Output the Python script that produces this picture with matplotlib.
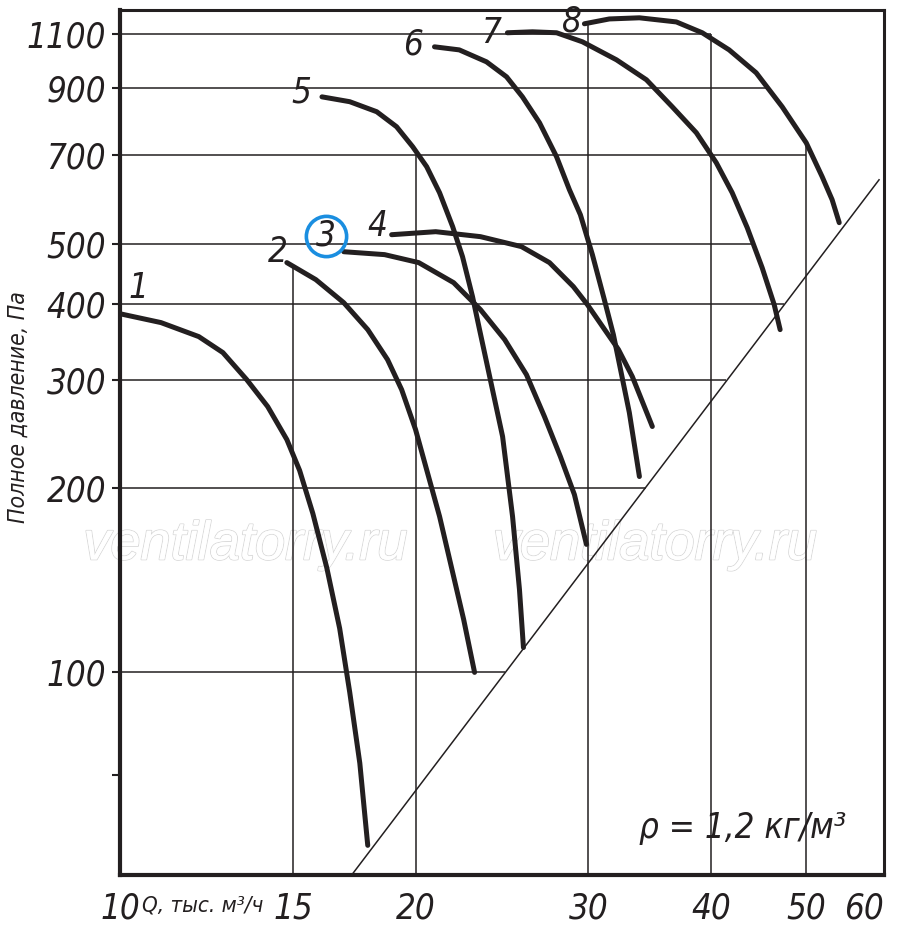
import matplotlib
matplotlib.use("Agg")
import matplotlib.pyplot as plt
import matplotlib.patheffects as pe

plt.rcParams.update({
    "font.family": ["Liberation Sans Narrow", "DejaVu Sans"],
    "font.style": "italic",
    "font.stretch": "condensed",
})

# fan curves: flow Q (thousand m3/h) vs total pressure (Pa)
q1 = [10.0, 11.01, 12.03, 12.73, 13.46, 14.14, 14.79, 15.24, 15.72, 16.24, 16.74, 17.14, 17.55, 17.88]
p1 = [385, 372.4, 353.3, 332.7, 300.6, 271.6, 239.9, 213.6, 181.7, 148.3, 118.0, 92.8, 71.1, 52.2]

q2 = [14.79, 15.83, 16.90, 17.88, 18.73, 19.36, 20.0, 21.16, 22.39, 22.97]
p2 = [466.6, 437.7, 401.4, 362.7, 324.0, 289.4, 249.2, 179.7, 122.0, 100]

q3 = [16.90, 18.60, 20.15, 21.87, 23.29, 24.65, 25.94, 27.06, 28.09, 29.03, 29.86]
p3 = [486.1, 480.8, 466.6, 432.7, 391.0, 349.4, 306.3, 261.6, 225.1, 195.1, 161.8]

q4 = [18.91, 20.97, 23.29, 25.64, 27.38, 28.96, 29.93, 32.19, 33.25, 34.85]
p4 = [518.2, 524.1, 514.4, 495.5, 466.6, 426.3, 398.4, 336.5, 304.1, 252.0]

q5 = [16.06, 17.14, 18.26, 19.13, 19.87, 20.53, 21.16, 21.82, 22.33, 22.86, 23.24, 24.53, 25.11, 25.52, 25.76]
p5 = [870, 854.3, 822.7, 777.6, 721.1, 669.1, 606.7, 534.1, 477.1, 410.6, 362.7, 242.7, 179.7, 136.6, 109.8]

q6 = [20.91, 22.16, 23.62, 24.76, 25.70, 26.75, 27.84, 28.69, 29.44, 30.28, 31.14, 31.81, 33.02, 33.81]
p6 = [1050, 1038, 992.5, 938, 870, 789.2, 694.6, 613.8, 558.6, 480.8, 406.0, 355.9, 265.6, 208.8]

q7 = [24.81, 26.31, 27.84, 29.58, 32.04, 34.37, 36.52, 38.64, 40.49, 42.03, 43.54, 45.09, 46.38, 47.03]
p7 = [1107, 1111, 1107, 1070, 1000, 927.7, 838.0, 760.2, 679.2, 606.7, 532.0, 457.7, 398.4, 362.7]

q8 = [29.72, 31.51, 33.81, 36.87, 39.18, 41.73, 44.46, 47.26, 50.0, 51.90, 53.13, 54.02]
p8 = [1145, 1166, 1171, 1153, 1107, 1038, 952.4, 838.0, 732.0, 644.5, 591.0, 542.2]

curves_q = [q1, q2, q3, q4, q5, q6, q7, q8]
curves_p = [p1, p2, p3, p4, p5, p6, p7, p8]

# curve number labels
label_q = [10.43, 14.48, 16.2, 18.3, 15.31, 19.86, 23.85, 28.83]
label_p = [424.6, 486, 516, 536, 884, 1058, 1107, 1153]
label_txt = ["1", "2", "3", "4", "5", "6", "7", "8"]

# limit line
lim_q = [17.22, 59.31]
lim_p = [46.7, 637]

# grid segments (clipped to the working area)
y_ticks = [100, 200, 300, 400, 500, 700, 900, 1100]
y_grid_end = [24.65, 34.37, 41.44, 47.48, 43.95, 50.0, 45.5, 40.0]
x_ticks = [10, 15, 20, 30, 40, 50, 60]
x_grid = [15, 20, 30, 40, 50]
x_grid_top = [463, 700, 1153, 1100, 732]

ink = "#231f20"

fig = plt.figure(figsize=(9, 9.32), dpi=100)
ax = fig.add_axes([0.1333, 0.0612, 0.8489, 0.9281])
ax.set_xscale("log")
ax.set_yscale("log")
ax.set_xlim(10, 60)
ax.set_ylim(46.7, 1206)

for val, end in zip(y_ticks, y_grid_end):
    ax.plot([10, end], [val, val], color=ink, lw=1.1, solid_capstyle="butt", zorder=1)
for val, top in zip(x_grid, x_grid_top):
    ax.plot([val, val], [46.7, top], color=ink, lw=1.1, solid_capstyle="butt", zorder=1)

ax.plot(lim_q, lim_p, color=ink, lw=1.1, zorder=2)

for q, p in zip(curves_q, curves_p):
    ax.plot(q, p, color=ink, lw=3.6, solid_capstyle="round", solid_joinstyle="round", zorder=3)

for q, p, t in zip(label_q, label_p, label_txt):
    ax.text(q, p, t, fontsize=25, color=ink, ha="center", va="center", zorder=4)

# highlight ring around curve 3
ax.plot([label_q[2]], [label_p[2]], marker="o", markersize=29, markerfacecolor="none",
        markeredgecolor="#1a8ee0", markeredgewidth=2.6, zorder=5)

ax.minorticks_off()
ax.set_yticks(y_ticks + [68])
ax.set_yticklabels([str(v) for v in y_ticks] + [""])
ax.set_xticks(x_ticks)
ax.set_xticklabels([str(v) for v in x_ticks])
ax.tick_params(axis="y", direction="out", length=6, width=1.5, pad=4, labelsize=25, colors=ink)
ax.tick_params(axis="x", length=0, pad=12, labelsize=25, colors=ink)
# last label sits slightly inside the frame
ax.get_xticklabels()[-1].set_horizontalalignment("right")

for side, lw in (("left", 3.0), ("bottom", 3.0), ("top", 2.2), ("right", 2.2)):
    ax.spines[side].set_linewidth(lw)
    ax.spines[side].set_color(ink)

fig.text(0.158, 0.028, "Q, тыс. м³/ч", fontsize=16, color=ink, ha="left", va="center")
fig.text(0.02, 0.563, "Полное давление, Па", fontsize=16.5, color=ink, rotation=90,
         ha="center", va="center")

ax.text(0.68, 0.054, "ρ = 1,2 кг/м³", transform=ax.transAxes, fontsize=25, color=ink,
        ha="left", va="center", zorder=4)

for xf in (0.164, 0.70):
    ax.text(xf, 0.381, "ventilatorry.ru", transform=ax.transAxes, fontsize=39,
            family=["Liberation Sans", "DejaVu Sans"], stretch="normal", color="white",
            ha="center", va="center", zorder=0.5,
            path_effects=[pe.withStroke(linewidth=1.3, foreground="#d8d8d8"), pe.Normal()])

fig.savefig("out.png", dpi=100)
